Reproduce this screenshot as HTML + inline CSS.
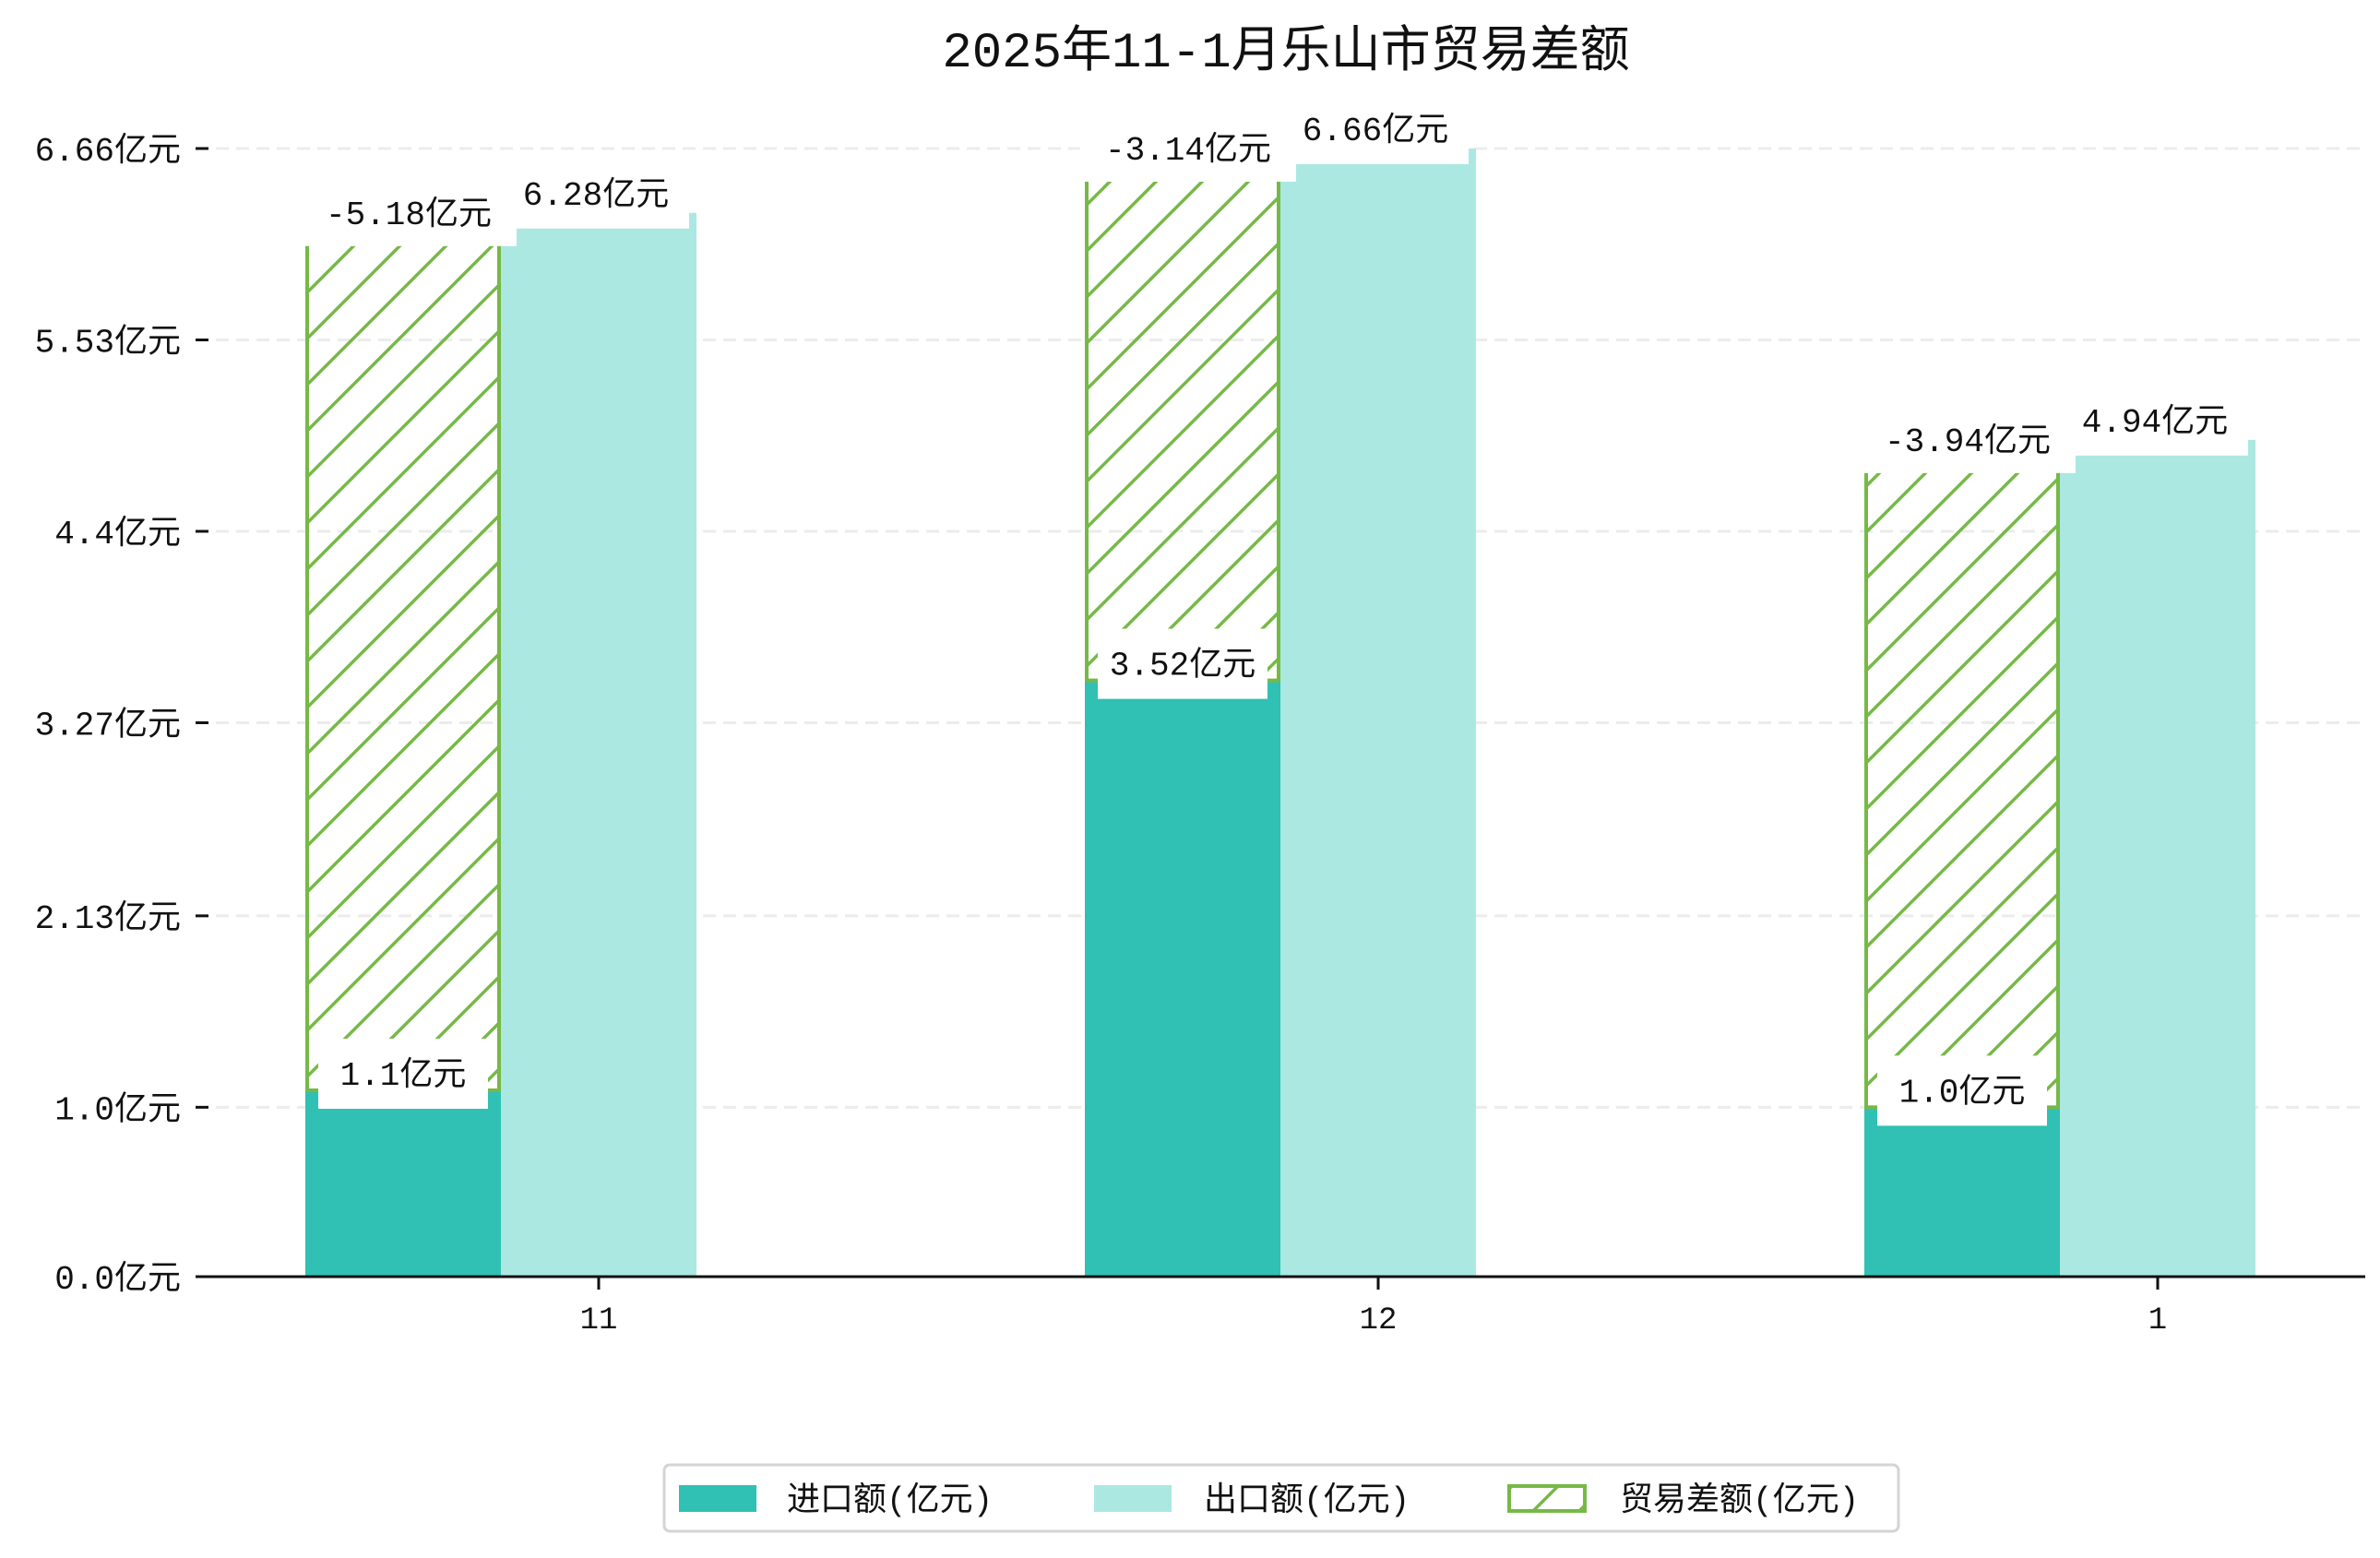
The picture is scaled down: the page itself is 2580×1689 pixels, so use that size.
<!DOCTYPE html>
<html><head><meta charset="utf-8">
<style>
html,body{margin:0;padding:0;background:#fff;}
svg{display:block;font-family:"Liberation Mono","Noto Sans CJK SC",monospace;}
</style></head>
<body>
<svg id="chart" width="2580" height="1689" viewBox="0 0 2580 1689" xmlns="http://www.w3.org/2000/svg">
<defs>
<pattern id="hatch" patternUnits="userSpaceOnUse" width="50" height="50">
<path d="M-10,10 L10,-10 M0,50 L50,0 M40,60 L60,40" stroke="#76b947" stroke-width="3.5"/>
</pattern>
</defs>
<text x="1394" y="72" text-anchor="middle" font-size="54" fill="#111">2025年11-1月乐山市贸易差额</text>
<g id="grid"></g>
<g id="bars"></g>
<g id="labels"></g>
<g id="axes"></g>
<g>
<rect x="720" y="1588" width="1338" height="72" rx="6" fill="#fff" stroke="#d4d4d4" stroke-width="3"/>
<rect x="736" y="1610" width="84" height="29" fill="#31c0b4"/>
<text x="853" y="1637" font-size="36" fill="#111">进口额(亿元)</text>
<rect x="1186" y="1610" width="84" height="29" fill="#abe8e2"/>
<text x="1305" y="1637" font-size="36" fill="#111">出口额(亿元)</text>
<rect x="1636" y="1611" width="82" height="27" fill="url(#hatch)" stroke="#76b947" stroke-width="4"/>
<text x="1756" y="1637" font-size="36" fill="#111">贸易差额(亿元)</text>
</g>
</svg>
<script>
const categories = ["11", "12", "1"];
const imports = [1.1, 3.52, 1.0];
const exports_ = [6.28, 6.66, 4.94];
const balances = [-5.18, -3.14, -3.94];
const tickValues = [0, 1.0, 2.13, 3.27, 4.4, 5.53, 6.66];
const tickLabels = ["0.0亿元", "1.0亿元", "2.13亿元", "3.27亿元", "4.4亿元", "5.53亿元", "6.66亿元"];

const NS = "http://www.w3.org/2000/svg";
const zeroY = 1384, topY = 161, yMax = 6.66;
const xLeft = 212, xRight = 2564;
const y = v => zeroY - (v / yMax) * (zeroY - topY);
const xc = i => 649 + i * 845;
const barW = 212;
function mk(tag, attrs, parent) {
  const e = document.createElementNS(NS, tag);
  for (const k in attrs) e.setAttribute(k, attrs[k]);
  parent.appendChild(e);
  return e;
}
const grid = document.getElementById('grid');
const bars = document.getElementById('bars');
const labels = document.getElementById('labels');
const axes = document.getElementById('axes');

tickValues.forEach((v, i) => {
  const yy = y(v);
  if (i > 0) {
    const g = mk('line', {x1: xLeft, x2: xRight, y1: yy, y2: yy, stroke: '#ececec', 'stroke-width': 3, 'stroke-dasharray': '14,8'}, grid);
    
    
  }
  const t = mk('line', {x1: 212, x2: 226, y1: yy, y2: yy, stroke: '#111', 'stroke-width': 3}, axes);
  
  
  const l = mk('text', {x: 196, y: yy + 13, 'text-anchor': 'end', 'font-size': 36, fill: '#111'}, axes);
  l.textContent = tickLabels[i];
  
  
});

function labelBox(cx, top, bottom, w, text, ty, name) {
  const r = mk('rect', {x: cx - w / 2, y: top, width: w, height: bottom - top, fill: '#fff'}, labels);
  
  
  const t = mk('text', {x: cx, y: ty, 'text-anchor': 'middle', 'font-size': 36, fill: '#111'}, labels);
  t.textContent = text;
  
  
}

categories.forEach((c, i) => {
  const ex = xc(i) - barW / 2;
  const gx = ex - barW;
  const b1 = mk('rect', {x: gx, y: y(imports[i]), width: barW, height: zeroY - y(imports[i]), fill: '#31c0b4'}, bars);
  
  
  const b2 = mk('rect', {x: ex, y: y(exports_[i]), width: barW, height: zeroY - y(exports_[i]), fill: '#abe8e2'}, bars);
  
  
  const top = imports[i] - balances[i];
  const b3 = mk('rect', {x: gx + 2, y: y(top), width: barW - 4, height: y(imports[i]) - y(top), fill: 'url(#hatch)', stroke: '#76b947', 'stroke-width': 4}, bars);
  
  

  const vt = y(top);
  labelBox(gx + barW / 2 + 6, vt - 40, vt + 36, barW + 22, balances[i] + '亿元', vt + 12, 'label-balance-' + c);
  const ve = y(exports_[i]);
  labelBox(ex + 103, ve - 48, ve + 17, 202, exports_[i].toFixed(2).replace(/0$/, '') + '亿元', ve - 9, 'label-export-' + c);
  const vi = y(imports[i]);
  labelBox(gx + barW / 2, vi - 56, vi + 20, 184, (Number.isInteger(imports[i]) ? imports[i].toFixed(1) : String(imports[i])) + '亿元', vi - 6, 'label-import-' + c);

  const tk = mk('line', {x1: xc(i), x2: xc(i), y1: zeroY, y2: zeroY + 14, stroke: '#111', 'stroke-width': 3}, axes);
  
  
  const tl = mk('text', {x: xc(i), y: 1440, 'text-anchor': 'middle', 'font-size': 34, fill: '#111'}, axes);
  tl.textContent = c;
  
  
});
const ax = mk('line', {x1: xLeft, x2: xRight, y1: zeroY, y2: zeroY, stroke: '#111', 'stroke-width': 3}, axes);


</script>
</body></html>
